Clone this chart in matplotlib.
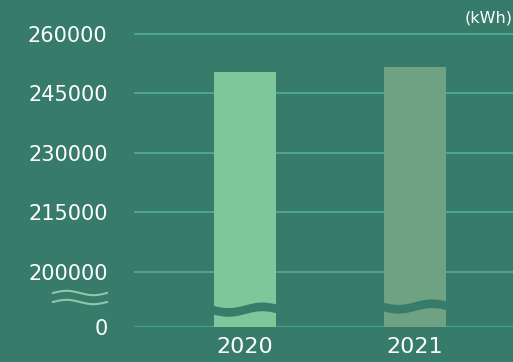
import numpy as np
import matplotlib.pyplot as plt

# data
years = ['2020', '2021']
usage = [250400, 251700]   # kWh
bar_colors = ['#7DC79B', '#6EA283']
ticks = [200000, 215000, 230000, 245000, 260000]
zero_pos = 186100  # where the "0" line sits on the broken axis

bg = '#377B6B'
grid_c = '#4FAA95'

fig = plt.figure(figsize=(5.13, 3.62), dpi=100, facecolor=bg)
ax = fig.add_axes([134 / 513, 35 / 362, 379 / 513, 317 / 362])
ax.set_facecolor(bg)

x = np.arange(len(years))
ax.set_xlim(-0.654, 1.578)
ax.set_ylim(zero_pos, 266050)

for t in ticks:
    ax.axhline(t, color=grid_c, lw=1.3, zorder=1)
ax.axhline(zero_pos, color='#3BA58C', lw=1.6, zorder=1)

ax.bar(x, np.array(usage) - zero_pos, bottom=zero_pos, width=0.365,
       color=bar_colors, zorder=2)

# wavy break across each bar
for xi, y0 in zip(x, [190600, 191400]):
    xs = np.linspace(xi - 0.2, xi + 0.2, 60)
    wave = 700 * np.sin((xs - xi) / 0.4 * 2 * np.pi)
    ax.fill_between(xs, y0 - 1100 + wave, y0 + 1100 + wave, color=bg, zorder=3, lw=0)

ax.set_yticks(ticks + [zero_pos])
ax.set_yticklabels([f'{t}' for t in ticks] + ['0'])
ax.set_xticks(x)
ax.set_xticklabels(years)
ax.tick_params(length=0, colors='white', labelsize=15)
ax.tick_params(axis='y', pad=19)
ax.tick_params(axis='x', pad=7, labelsize=16)
for s in ax.spines.values():
    s.set_visible(False)

# broken-axis marker next to the labels
wx = np.linspace(53 / 513, 107 / 513, 50)
for yy in [69 / 362, 60 / 362]:
    wy = yy + 0.006 * np.sin((wx - wx[0]) / (wx[-1] - wx[0]) * 2 * np.pi)
    fig.add_artist(plt.Line2D(wx, wy, color='#8CC9A6', lw=1.5))

fig.text(1.0, 344 / 362, '(kWh)', color='white', fontsize=11.5,
         ha='right', va='center')

fig.savefig('out.png', dpi=100, facecolor=bg)
